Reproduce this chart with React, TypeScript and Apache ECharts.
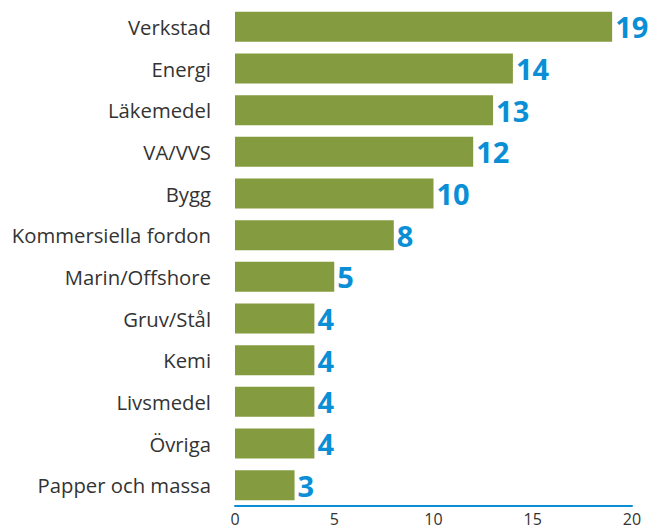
import React, { useEffect, useRef } from "react";
import * as echarts from "echarts";

const categories = [
  "Verkstad",
  "Energi",
  "Läkemedel",
  "VA/VVS",
  "Bygg",
  "Kommersiella fordon",
  "Marin/Offshore",
  "Gruv/Stål",
  "Kemi",
  "Livsmedel",
  "Övriga",
  "Papper och massa",
];
const values = [19, 14, 13, 12, 10, 8, 5, 4, 4, 4, 4, 3];
const xTicks = [0, 5, 10, 15, 20];

export default function App() {
  const ref = useRef<HTMLDivElement>(null);
  useEffect(() => {
    if (!ref.current) return;
    const chart = echarts.init(ref.current, undefined, { renderer: "svg" });
    chart.setOption({
      animation: false,
      grid: { left: 235, right: 17, top: 6, bottom: 23, containLabel: false },
      xAxis: {
        type: "value",
        min: xTicks[0],
        max: xTicks[xTicks.length - 1],
        interval: 5,
        splitLine: { show: false },
        axisLine: { show: true, lineStyle: { color: "#0a8fd6", width: 2 } },
        axisTick: { show: false },
        axisLabel: {
          color: "#333",
          fontSize: 16,
          fontFamily: "Open Sans",
          margin: 5,
        },
      },
      yAxis: {
        type: "category",
        data: categories,
        inverse: true,
        axisLine: { show: false },
        axisTick: { show: false },
        axisLabel: {
          color: "#333",
          fontSize: 20.3,
          fontFamily: "Open Sans",
          margin: 24,
        },
      },
      series: [
        {
          type: "bar",
          data: values,
          barCategoryGap: "28%",
          itemStyle: { color: "#849b3f" },
          label: {
            show: true,
            position: "right",
            distance: 3,
            color: "#0a8fd6",
            fontSize: 29,
            fontWeight: "bold",
            fontFamily: "Open Sans",
          },
        },
      ],
    });
    return () => chart.dispose();
  }, []);
  return <div ref={ref} style={{ width: 649, height: 529, position: "absolute", left: 0, top: 0 }} />;
}
